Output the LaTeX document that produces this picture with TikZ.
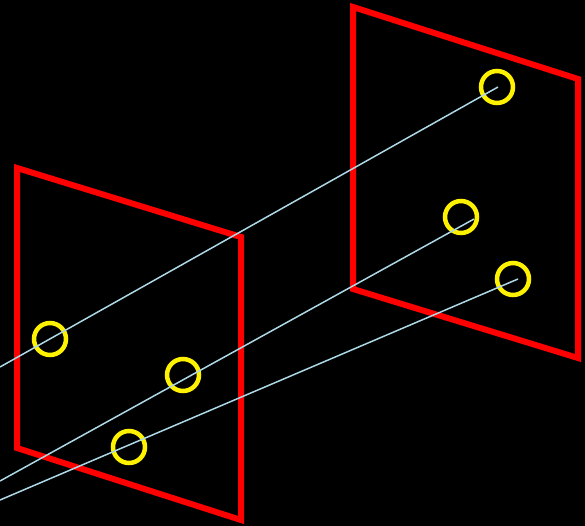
\documentclass[tikz,border=0pt]{standalone}
\begin{document}
\begin{tikzpicture}[x=1pt,y=-1pt,
  frame/.style={draw=red,line width=6pt,line join=miter},
  ring/.style={circle,draw=yellow,line width=4.5pt,minimum size=32pt,inner sep=0pt},
  ray/.style={draw={rgb,255:red,173;green,216;blue,230},line width=1.5pt}]
\fill[black] (0,0) rectangle (585,526);
\useasboundingbox (0,0) rectangle (585,526);
% frames
\draw[frame] (17,168) -- (241,237) -- (241,520) -- (17,448) -- cycle;
\draw[frame] (353,7) -- (578,79) -- (578,358) -- (353,289) -- cycle;
% rings
\node[ring] (l1) at (50,339) {};
\node[ring] (l2) at (183,375) {};
\node[ring] (l3) at (129,447) {};
\node[ring] (r1) at (497,87) {};
\node[ring] (r2) at (461,217) {};
\node[ring] (r3) at (513,279) {};
% ray endpoints
\coordinate (s1) at (0,367);
\coordinate (s2) at (0,481);
\coordinate (s3) at (0,500);
\coordinate (e1) at (498,87);
\coordinate (e2) at (474,219);
\coordinate (e3) at (518,279);
\draw[ray] (s1) -- (e1);
\draw[ray] (s2) -- (e2);
\draw[ray] (s3) -- (e3);
\end{tikzpicture}
\end{document}
